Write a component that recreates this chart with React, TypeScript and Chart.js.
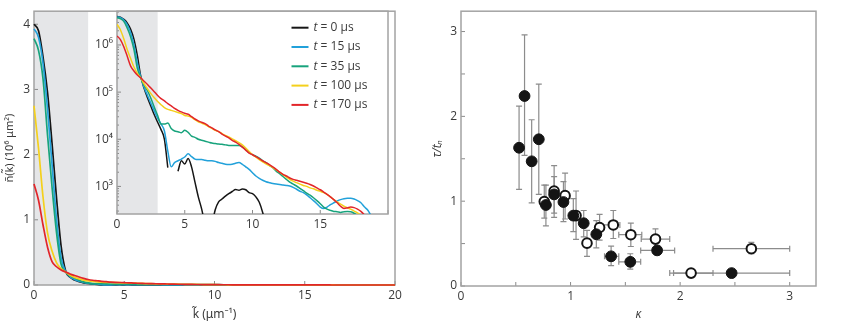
import React, { useEffect, useRef } from 'react';
import { Chart, registerables } from 'chart.js';

Chart.register(...registerables);

// ---------- Left panel data: k grid (μm^-1) and n(k) in μm² ----------
const K = [0, 0.25, 0.5, 0.75, 1, 1.25, 1.5, 1.75, 2, 2.25, 2.5, 2.75, 3, 3.25, 3.5, 3.75, 4, 4.25, 4.5, 4.75,
  5, 5.25, 5.5, 5.75, 6, 6.25, 6.5, 6.75, 7, 7.25, 7.5, 7.75, 8, 8.25, 8.5, 8.75, 9, 9.25, 9.5, 9.75,
  10, 10.25, 10.5, 10.75, 11, 11.25, 11.5, 11.75, 12, 12.25, 12.5, 12.75, 13, 13.25, 13.5, 13.75, 14, 14.25, 14.5, 14.75,
  15, 15.25, 15.5, 15.75, 16, 16.25, 16.5, 16.75, 17, 17.25, 17.5, 17.75, 18, 18.25, 18.5, 18.75, 19, 19.25, 19.5, 19.75, 20];

const N_T0 = [4.0e6, 3.9e6, 3.5e6, 2.95e6, 2.17e6, 1.33e6, 6.0e5, 2.2e5,
  1.2e5, 7.6e4, 5.0e4, 3.3e4, 2.3e4, 1.6e4, 1.0e4, 2.5e3,
  null, null, 2.1e3, 3.5e3, 3.0e3, 3.9e3, 2.6e3, 1.25e3,
  600, 330, 150, 80, 150, 320, 470, 540,
  620, 700, 780, 860, 830, 880, 850, 740,
  700, 600, 460, 280, 140];

const N_T15 = [3.93e6, 3.8e6, 3.4e6, 2.7e6, 1.85e6, 1.0e6, 4.2e5, 2.1e5,
  1.26e5, 8.5e4, 5.8e4, 4.0e4, 2.8e4, 2.1e4, 1.5e4, 5.6e3,
  2.6e3, 3.2e3, 3.5e3, 3.8e3, 4.2e3, 4.9e3, 4.3e3, 3.8e3,
  3.7e3, 3.7e3, 3.6e3, 3.5e3, 3.5e3, 3.4e3, 3.2e3, 3.1e3,
  2.95e3, 2.9e3, 2.95e3, 3.1e3, 3.2e3, 2.95e3, 2.6e3, 2.3e3,
  1.95e3, 1.66e3, 1.48e3, 1.35e3, 1.26e3, 1.2e3, 1.15e3, 1.12e3,
  1.1e3, 1.07e3, 1.05e3, 1.02e3, 955, 870, 790, 740,
  660, 575, 500, 430, 365, 340, 365, 410,
  450, 490, 525, 550, 560, 560, 540, 500,
  450, 370, 315, 240];

const N_T35 = [3.78e6, 3.6e6, 3.16e6, 2.3e6, 1.5e6, 8.0e5, 3.2e5, 2.0e5,
  1.4e5, 1.07e5, 7.4e4, 4.8e4, 3.2e4, 2.1e4, 2.1e4, 2.2e4,
  1.7e4, 1.5e4, 1.45e4, 1.38e4, 1.55e4, 1.4e4, 1.17e4, 1.1e4,
  1.0e4, 9.5e3, 9.1e3, 8.7e3, 8.3e3, 8.1e3, 7.9e3, 7.8e3,
  7.6e3, 7.4e3, 7.4e3, 7.4e3, 7.4e3, 6.9e3, 6.0e3, 5.2e3,
  4.7e3, 4.4e3, 4.0e3, 3.5e3, 3.2e3, 2.8e3, 2.5e3, 2.1e3,
  1.86e3, 1.62e3, 1.41e3, 1.23e3, 1.12e3, 1.02e3, 910, 810,
  720, 650, 575, 500, 430, 365, 330, 310,
  295, 290, 280, 290, 295, 290, 270, 240,
  200];

const N_T100 = [2.75e6, 2.1e6, 1.35e6, 8.0e5, 5.2e5, 3.4e5, 2.5e5, 2.0e5,
  1.5e5, 1.17e5, 9.3e4, 7.6e4, 6.3e4, 5.4e4, 4.7e4, 4.3e4,
  4.1e4, 3.9e4, 3.7e4, 3.5e4, 3.2e4, 3.1e4, 2.9e4, 2.6e4,
  2.35e4, 2.2e4, 2.05e4, 1.86e4, 1.7e4, 1.55e4, 1.45e4, 1.32e4,
  1.2e4, 1.12e4, 1.02e4, 9.3e3, 8.5e3, 7.6e3, 6.5e3, 5.5e3,
  4.7e3, 4.2e3, 3.7e3, 3.3e3, 3.0e3, 2.75e3, 2.5e3, 2.24e3,
  2.0e3, 1.78e3, 1.58e3, 1.41e3, 1.29e3, 1.2e3, 1.12e3, 1.05e3,
  1.0e3, 930, 890, 830, 790, 740, 680, 600,
  525, 470, 420, 380, 355, 330, 300, 275,
  240, 200];

const N_T170 = [1.55e6, 1.3e6, 9.2e5, 5.8e5, 3.6e5, 2.8e5, 2.3e5, 2.0e5,
  1.7e5, 1.45e5, 1.22e5, 1.02e5, 8.5e4, 7.3e4, 6.5e4, 5.7e4,
  5.1e4, 4.5e4, 4.1e4, 3.8e4, 3.55e4, 3.39e4, 3.02e4, 2.69e4,
  2.45e4, 2.29e4, 2.14e4, 1.91e4, 1.74e4, 1.58e4, 1.45e4, 1.29e4,
  1.17e4, 1.07e4, 9.5e3, 8.7e3, 7.8e3, 6.8e3, 5.9e3, 5.1e3,
  4.7e3, 4.3e3, 3.9e3, 3.5e3, 3.2e3, 2.9e3, 2.6e3, 2.3e3,
  2.0e3, 1.8e3, 1.66e3, 1.51e3, 1.41e3, 1.35e3, 1.29e3, 1.23e3,
  1.17e3, 1.1e3, 1.02e3, 930, 850, 760, 680, 600,
  525, 450, 380, 340, 350, 365, 355, 330,
  295, 250, 200];

const SERIES = [N_T0, N_T15, N_T35, N_T100, N_T170];
const TIMES = [0, 15, 35, 100, 170];
const COLORS = ['#161616', '#22a1da', '#17a37c', '#f4d01c', '#e2252a'];
const BAND = [0, 3];

const MAIN_X_MAX = 20;
const MAIN_Y_MAX = 4.2;
const INSET_Y_MIN = 260;
const INSET_Y_MAX = 5.2e6;
const INSET_Y_TICKS = [1e3, 1e4, 1e5, 1e6];
const INSET_Y_LABELS = ['10³', '10⁴', '10⁵', '10⁶'];
const INSET_X_LABELS = [0, 5, 10, 15];

// ---------- Right panel data ----------
const KAPPA_F = [0.53, 0.58, 0.645, 0.71, 0.775, 0.85, 0.935, 1.025, 1.12, 1.235, 1.37, 1.545, 1.79, 2.47];
const TAU_F = [1.63, 2.24, 1.47, 1.73, 0.955, 1.08, 0.99, 0.83, 0.74, 0.61, 0.35, 0.285, 0.42, 0.152];
const TAU_F_LO = [1.14, 1.54, 0.98, 1.08, 0.71, 0.81, 0.76, 0.64, 0.58, 0.45, 0.24, 0.2, 0.37, null];
const TAU_F_HI = [2.12, 2.96, 1.96, 2.38, 1.19, 1.29, 1.23, 1.03, 0.89, 0.77, 0.47, 0.38, 0.47, null];
const KAPPA_F_LO = [null, null, null, null, null, null, null, null, null, null, 1.31, 1.44, 1.64, 1.94];
const KAPPA_F_HI = [null, null, null, null, null, null, null, null, null, null, 1.44, 1.64, 1.95, 3.0];

const KAPPA_O = [0.76, 0.85, 0.95, 1.05, 1.15, 1.265, 1.39, 1.55, 1.775, 2.1, 2.65];
const TAU_O = [0.995, 1.12, 1.065, 0.83, 0.505, 0.69, 0.72, 0.605, 0.553, 0.152, 0.44];
const TAU_O_LO = [0.8, 0.86, 0.79, 0.55, 0.35, 0.54, 0.56, 0.466, 0.45, null, 0.38];
const TAU_O_HI = [1.19, 1.42, 1.33, 1.12, 0.655, 0.845, 0.89, 0.742, 0.674, null, 0.515];
const KAPPA_O_LO = [null, null, null, null, null, null, 1.28, 1.44, 1.645, 1.905, 2.3];
const KAPPA_O_HI = [null, null, null, null, null, null, 1.45, 1.65, 1.905, 2.3, 3.0];

const RIGHT_MAX = 3.24;

// ---------- styling ----------
const FONT = '"Open Sans", "DejaVu Sans", sans-serif';
const MARK_FONT = '"Noto Sans", "DejaVu Sans", sans-serif';
const TEXT = '#3a3a3a';
const FRAME = '#a3a3a3';
const TICK = '#8a8a8a';
const BAND_COLOR = '#e5e6e8';
const ERR = '#8c8c8c';

const fixedAxis = (size: number) => (scale: any) => {
  if (scale.isHorizontal()) scale.height = size;
  else scale.width = size;
};

function framePlugin(tickLen: (axis: string, v: number) => number) {
  return {
    id: 'frameTicks',
    beforeDatasetsDraw(chart: any) {
      const { ctx, chartArea: a } = chart;
      ctx.save();
      ctx.strokeStyle = TICK;
      ctx.lineWidth = 1;
      for (const axis of ['x', 'y']) {
        const sc = chart.scales[axis];
        for (const t of sc.ticks) {
          const len = tickLen(axis, t.value);
          if (!len) continue;
          const p = sc.getPixelForValue(t.value);
          ctx.beginPath();
          if (axis === 'x') {
            ctx.moveTo(p, a.bottom);
            ctx.lineTo(p, a.bottom - len);
          } else {
            ctx.moveTo(a.left, p);
            ctx.lineTo(a.left + len, p);
          }
          ctx.stroke();
        }
      }
      ctx.strokeStyle = FRAME;
      ctx.lineWidth = 1.5;
      ctx.strokeRect(a.left, a.top, a.width, a.height);
      ctx.restore();
    },
  };
}

const bandPlugin = {
  id: 'band',
  beforeDatasetsDraw(chart: any) {
    const { ctx, chartArea: a } = chart;
    const xs = chart.scales.x;
    const x0 = xs.getPixelForValue(BAND[0]);
    const x1 = xs.getPixelForValue(BAND[1]);
    ctx.save();
    ctx.fillStyle = BAND_COLOR;
    ctx.fillRect(x0, a.top, x1 - x0, a.height);
    ctx.restore();
  },
};

const whiteAreaPlugin = {
  id: 'whiteArea',
  beforeDraw(chart: any) {
    const { ctx, chartArea: a } = chart;
    ctx.save();
    ctx.fillStyle = '#ffffff';
    ctx.fillRect(a.left, a.top, a.width, a.height);
    ctx.restore();
  },
};

const insetLegendPlugin = {
  id: 'insetLegend',
  afterDatasetsDraw(chart: any) {
    const { ctx, chartArea: a } = chart;
    ctx.save();
    TIMES.forEach((t, i) => {
      const y = a.top + 16.5 + i * 19.3;
      const x0 = a.left + 174.5;
      ctx.strokeStyle = COLORS[i];
      ctx.lineWidth = 2;
      ctx.beginPath();
      ctx.moveTo(x0, y);
      ctx.lineTo(x0 + 17, y);
      ctx.stroke();
      ctx.fillStyle = TEXT;
      ctx.textBaseline = 'middle';
      ctx.textAlign = 'left';
      ctx.font = `italic 12px ${FONT}`;
      ctx.fillText('t', x0 + 22, y);
      const w = ctx.measureText('t').width;
      ctx.font = `12px ${FONT}`;
      ctx.fillText(` = ${t} μs`, x0 + 22 + w, y);
    });
    ctx.restore();
  },
};

const errorBarPlugin = {
  id: 'errorBars',
  beforeDatasetsDraw(chart: any) {
    const { ctx } = chart;
    const xs = chart.scales.x;
    const ys = chart.scales.y;
    const groups = [
      [KAPPA_F, TAU_F, TAU_F_LO, TAU_F_HI, KAPPA_F_LO, KAPPA_F_HI],
      [KAPPA_O, TAU_O, TAU_O_LO, TAU_O_HI, KAPPA_O_LO, KAPPA_O_HI],
    ];
    ctx.save();
    ctx.strokeStyle = ERR;
    ctx.lineWidth = 1.2;
    const cap = 3;
    for (const [X, Y, YL, YH, XL, XH] of groups as any[]) {
      X.forEach((xv: number, i: number) => {
        const px = xs.getPixelForValue(xv);
        const py = ys.getPixelForValue(Y[i]);
        if (YL[i] != null && YH[i] != null) {
          const p0 = ys.getPixelForValue(YL[i]);
          const p1 = ys.getPixelForValue(YH[i]);
          ctx.beginPath();
          ctx.moveTo(px, p0); ctx.lineTo(px, p1);
          ctx.moveTo(px - cap, p0); ctx.lineTo(px + cap, p0);
          ctx.moveTo(px - cap, p1); ctx.lineTo(px + cap, p1);
          ctx.stroke();
        }
        if (XL[i] != null && XH[i] != null) {
          const q0 = xs.getPixelForValue(XL[i]);
          const q1 = xs.getPixelForValue(XH[i]);
          ctx.beginPath();
          ctx.moveTo(q0, py); ctx.lineTo(q1, py);
          ctx.moveTo(q0, py - cap); ctx.lineTo(q0, py + cap);
          ctx.moveTo(q1, py - cap); ctx.lineTo(q1, py + cap);
          ctx.stroke();
        }
      });
    }
    ctx.restore();
  },
};

const tickFont = { family: FONT, size: 12 };
const noGrid = { display: false, drawTicks: false };
const noBorder = { display: false };

export default function App() {
  const mainRef = useRef<HTMLCanvasElement>(null);
  const insetRef = useRef<HTMLCanvasElement>(null);
  const rightRef = useRef<HTMLCanvasElement>(null);

  useEffect(() => {
    const charts: Chart[] = [];

    // ----- main linear plot -----
    charts.push(new Chart(mainRef.current as HTMLCanvasElement, {
      type: 'line',
      data: {
        datasets: SERIES.map((s, i) => ({
          data: K.map((k, j) => ({ x: k, y: ((s[j] ?? 0) as number) / 1e6 })),
          borderColor: COLORS[i],
          borderWidth: 1.7,
          pointRadius: 0,
          cubicInterpolationMode: 'monotone',
          order: SERIES.length - 1 - i,
          clip: 2,
        })),
      } as any,
      options: {
        animation: false,
        responsive: false,
        events: [],
        layout: { padding: { top: 1, right: 25, left: 0, bottom: 0 } },
        plugins: { legend: { display: false }, tooltip: { enabled: false } },
        scales: {
          x: {
            type: 'linear', min: 0, max: MAIN_X_MAX,
            grid: noGrid, border: noBorder,
            ticks: { stepSize: 5, includeBounds: false, padding: 3, color: TEXT, font: tickFont, maxRotation: 0, autoSkip: false },
            title: { display: true, text: 'k\u0303 (μm⁻¹)', color: TEXT, font: { family: MARK_FONT, size: 12 }, padding: { top: 0, bottom: 1 } },
            afterFit: fixedAxis(38),
          },
          y: {
            type: 'linear', min: 0, max: MAIN_Y_MAX,
            grid: noGrid, border: noBorder,
            ticks: { stepSize: 1, includeBounds: false, padding: 4, color: TEXT, font: tickFont, autoSkip: false },
            title: { display: true, text: 'n\u0303(k\u0303) (10⁶ μm²)', color: TEXT, font: { family: MARK_FONT, size: 11 }, padding: { top: 3, bottom: 0 } },
            afterFit: fixedAxis(34),
          },
        },
      } as any,
      plugins: [bandPlugin, framePlugin(() => 4)],
    }));

    // ----- inset log plot -----
    const isPow10 = (v: number) => INSET_Y_TICKS.some((t) => Math.abs(v - t) / t < 1e-6);
    charts.push(new Chart(insetRef.current as HTMLCanvasElement, {
      type: 'line',
      data: {
        datasets: SERIES.map((s, i) => ({
          data: K.map((k, j) => ({ x: k, y: s[j] ?? null })),
          borderColor: COLORS[i],
          borderWidth: 1.5,
          pointRadius: 0,
          cubicInterpolationMode: 'monotone',
          order: SERIES.length - 1 - i,
        })),
      } as any,
      options: {
        animation: false,
        responsive: false,
        events: [],
        layout: { padding: { top: 5, right: 7, left: 0, bottom: 0 } },
        plugins: { legend: { display: false }, tooltip: { enabled: false } },
        scales: {
          x: {
            type: 'linear', min: 0, max: 20,
            grid: noGrid, border: noBorder,
            ticks: {
              stepSize: 5, includeBounds: false, padding: 3, color: TEXT, font: tickFont, maxRotation: 0, autoSkip: false,
              callback: (v: number) => (INSET_X_LABELS.includes(v) ? String(v) : ''),
            },
            afterFit: fixedAxis(18),
          },
          y: {
            type: 'logarithmic', min: INSET_Y_MIN, max: INSET_Y_MAX,
            grid: noGrid, border: noBorder,
            ticks: {
              padding: 4, color: TEXT, font: tickFont, autoSkip: false,
              callback: (v: number) => {
                const idx = INSET_Y_TICKS.findIndex((t) => Math.abs(v - t) / t < 1e-6);
                return idx >= 0 ? INSET_Y_LABELS[idx] : '';
              },
            },
            afterFit: fixedAxis(47),
          },
        },
      } as any,
      plugins: [
        whiteAreaPlugin,
        bandPlugin,
        framePlugin((axis, v) => {
          if (axis === 'x') return 4;
          if (isPow10(v)) return 4;
          const m = v / Math.pow(10, Math.floor(Math.log10(v) + 1e-9));
          return Math.abs(m - Math.round(m)) < 1e-6 ? 2 : 0;
        }),
        insetLegendPlugin,
      ],
    }));

    // ----- right scatter plot -----
    charts.push(new Chart(rightRef.current as HTMLCanvasElement, {
      type: 'scatter',
      data: {
        datasets: [
          {
            data: KAPPA_F.map((x, i) => ({ x, y: TAU_F[i] })),
            pointRadius: 5.4,
            pointBackgroundColor: '#141414',
            pointBorderColor: '#141414',
            pointBorderWidth: 1,
            order: 0,
          },
          {
            data: KAPPA_O.map((x, i) => ({ x, y: TAU_O[i] })),
            pointRadius: 4.8,
            pointBackgroundColor: '#ffffff',
            pointBorderColor: '#141414',
            pointBorderWidth: 2,
            order: 1,
          },
        ],
      } as any,
      options: {
        animation: false,
        responsive: false,
        events: [],
        layout: { padding: { top: 1, right: 27, left: 0, bottom: 0 } },
        plugins: { legend: { display: false }, tooltip: { enabled: false } },
        scales: {
          x: {
            type: 'linear', min: 0, max: RIGHT_MAX,
            grid: noGrid, border: noBorder,
            ticks: {
              stepSize: 0.5, includeBounds: false, padding: 3, color: TEXT, font: tickFont, maxRotation: 0, autoSkip: false,
              callback: (v: number) => (Number.isInteger(v) ? String(v) : ''),
            },
            title: { display: true, text: 'κ', color: TEXT, font: { family: FONT, size: 12, style: 'italic' }, padding: { top: 0, bottom: 1 } },
            afterFit: fixedAxis(37),
          },
          y: {
            type: 'linear', min: 0, max: RIGHT_MAX,
            grid: noGrid, border: noBorder,
            ticks: {
              stepSize: 0.5, includeBounds: false, padding: 4, color: TEXT, font: tickFont, autoSkip: false,
              callback: (v: number) => (Number.isInteger(v) ? String(v) : ''),
            },
            title: { display: true, text: 'τ/tₙ', color: TEXT, font: { family: FONT, size: 12, style: 'italic' }, padding: { top: 2, bottom: 0 } },
            afterFit: fixedAxis(33),
          },
        },
      } as any,
      plugins: [framePlugin(() => 4), errorBarPlugin],
    }));

    return () => charts.forEach((c) => c.destroy());
  }, []);

  return (
    <div style={{ position: 'absolute', left: 0, top: 0, width: 843, height: 323, background: '#ffffff' }}>
      <canvas ref={mainRef} width={420} height={323} style={{ position: 'absolute', left: 0, top: 0, width: 420, height: 323 }} />
      <canvas ref={insetRef} width={325} height={232} style={{ position: 'absolute', left: 70, top: 0, width: 325, height: 232 }} />
      <canvas ref={rightRef} width={415} height={323} style={{ position: 'absolute', left: 428, top: 0, width: 415, height: 323 }} />
    </div>
  );
}
